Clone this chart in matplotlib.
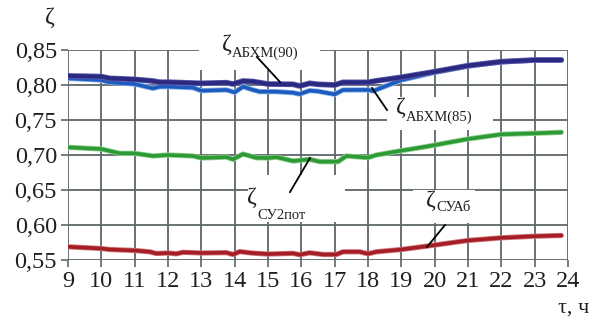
import matplotlib
matplotlib.use("Agg")
import matplotlib.pyplot as plt
import matplotlib.patheffects as pe
from matplotlib.patches import Rectangle

# ---- data ----
t_abxm90 = [9.0, 10.0, 10.25, 11.0, 11.55, 11.75, 12.0, 13.0, 13.75, 13.95, 14.25, 14.55, 15.0,
            15.75, 15.95, 16.25, 16.5, 17.0, 17.25, 18.0, 18.25, 19.0, 20.0, 21.0, 22.0, 23.0, 23.8]
z_abxm90 = [0.813, 0.812, 0.8095, 0.808, 0.8057, 0.804, 0.804, 0.8024, 0.8033, 0.8014, 0.8057, 0.805, 0.8014,
            0.801, 0.7986, 0.8024, 0.801, 0.800, 0.8038, 0.8038, 0.806, 0.811, 0.819, 0.8276, 0.8333, 0.8357, 0.8357]

t_abxm85 = [9.0, 10.0, 10.25, 11.0, 11.55, 11.75, 12.0, 12.75, 13.0, 13.75, 14.0, 14.25, 14.55, 14.75,
            15.25, 15.75, 15.95, 16.25, 16.5, 17.0, 17.25, 18.0, 18.15, 19.0, 20.0, 21.0, 22.0, 23.0, 23.8]
z_abxm85 = [0.8095, 0.807, 0.8038, 0.8014, 0.7952, 0.7976, 0.7976, 0.7962, 0.7919, 0.793, 0.7895, 0.7976, 0.793, 0.7905,
            0.7905, 0.789, 0.787, 0.792, 0.791, 0.7867, 0.7929, 0.793, 0.7914, 0.807, 0.818, 0.827, 0.833, 0.8355, 0.8355]

t_su2pot = [9.0, 10.0, 10.25, 10.55, 11.0, 11.55, 12.0, 12.75, 13.0, 13.75, 13.95, 14.25, 14.65, 15.0,
            15.25, 15.75, 16.25, 16.55, 17.1, 17.35, 18.0, 18.25, 19.0, 19.75, 21.0, 22.0, 23.0, 23.8]
z_su2pot = [0.711, 0.7086, 0.7057, 0.7024, 0.7024, 0.6986, 0.700, 0.6986, 0.6957, 0.697, 0.6938, 0.7014, 0.696, 0.6957,
            0.697, 0.6914, 0.6938, 0.6905, 0.6905, 0.6986, 0.6962, 0.700, 0.7062, 0.712, 0.7229, 0.7295, 0.731, 0.7324]

t_suab = [9.0, 10.0, 10.25, 11.0, 11.45, 11.65, 12.0, 12.25, 12.45, 13.0, 13.75, 13.95, 14.15, 14.5, 15.0,
          15.75, 15.95, 16.25, 16.65, 17.05, 17.25, 17.75, 18.0, 18.25, 19.0, 19.75, 21.0, 22.0, 23.0, 23.8]
z_suab = [0.5689, 0.5664, 0.565, 0.5636, 0.5617, 0.5593, 0.560, 0.5589, 0.561, 0.560, 0.5605, 0.5579, 0.562, 0.560, 0.5585,
          0.5595, 0.5575, 0.5603, 0.5579, 0.5579, 0.5617, 0.5617, 0.5589, 0.5617, 0.565, 0.5697, 0.5779, 0.5817, 0.584, 0.585]

x_ticks = list(range(9, 25))
y_ticks = [0.55, 0.60, 0.65, 0.70, 0.75, 0.80, 0.85]
y_ticklabels = ["0,55", "0,60", "0,65", "0,70", "0,75", "0,80", "0,85"]

# ---- figure ----
plt.rcParams['font.family'] = ['Liberation Serif', 'DejaVu Serif']
fig = plt.figure(figsize=(5.91, 3.22), dpi=100)
ax = fig.add_axes([68/591, 1-260/322, 500/591, 210/322])
ax.set_xlim(9, 24)
ax.set_ylim(0.55, 0.85)
for s in ax.spines.values():
    s.set_visible(False)
gc = '#5E676A'
ax.set_xticks(x_ticks)
ax.set_yticks(y_ticks)
ax.set_yticklabels(y_ticklabels)
ax.tick_params(axis='both', colors=gc, length=5, width=1.2, labelsize=17.5, labelcolor='#231F20', pad=3)
ax.grid(True, color=gc, linewidth=1.3, zorder=0)
ax.set_axisbelow(True)

def curve(t, z, col, halo, lw):
    ax.plot(t, z, color=col, lw=lw, solid_capstyle='round', solid_joinstyle='round', zorder=3,
            path_effects=[pe.Stroke(linewidth=lw+1.2, foreground=halo), pe.Normal()])

curve(t_suab, z_suab, '#A51D25', '#D0797C', 2.6)
curve(t_su2pot, z_su2pot, '#2E9A35', '#8FD08F', 2.6)
curve(t_abxm85, z_abxm85, '#1F5BBE', '#86B4EA', 2.6)
curve(t_abxm90, z_abxm90, '#2B2A82', '#5E5AA8', 2.9)

# white label boxes
def wbox(x0, x1, y0, y1):
    ax.add_patch(Rectangle((x0, y0), x1-x0, y1-y0, facecolor='white', edgecolor='none',
                           zorder=2, clip_on=False))

def label(xz, yz, ys, sub):
    ax.text(xz, yz, 'ζ', fontsize=17, ha='left', va='center', color='#231F20', zorder=4)
    ax.text(xz+0.3, ys, sub, fontsize=10.5, ha='left', va='center', color='#231F20', zorder=4)

def pointer(x0, y0, x1, y1):
    ax.plot([x0, x1], [y0, y1], color='black', lw=1.3, zorder=5, clip_on=False)

wbox(12.93, 16.56, 0.8214, 0.875)
label(13.62, 0.858, 0.8457, 'АБХМ(90)')
pointer(14.67, 0.840, 15.36, 0.8043)

wbox(18.57, 21.75, 0.7357, 0.7829)
label(18.85, 0.768, 0.7545, 'АБХМ(85)')
pointer(18.12, 0.7957, 18.57, 0.7643)

wbox(14.4, 17.3, 0.6043, 0.6714)
label(14.38, 0.640, 0.6129, 'СУ2пот')
pointer(16.26, 0.6957, 15.66, 0.6471)

wbox(19.35, 21.21, 0.6029, 0.6495)
label(19.74, 0.6343, 0.6243, 'СУАб')
pointer(20.31, 0.600, 19.77, 0.5686)

fig.text(50/591, 1-17/322, 'ζ', fontsize=17, ha='center', va='center', color='#231F20')
fig.text(574/591, 1-308/322, 'τ, ч', fontsize=16, ha='center', va='center', color='#231F20')

fig.savefig('out.png', dpi=100)
